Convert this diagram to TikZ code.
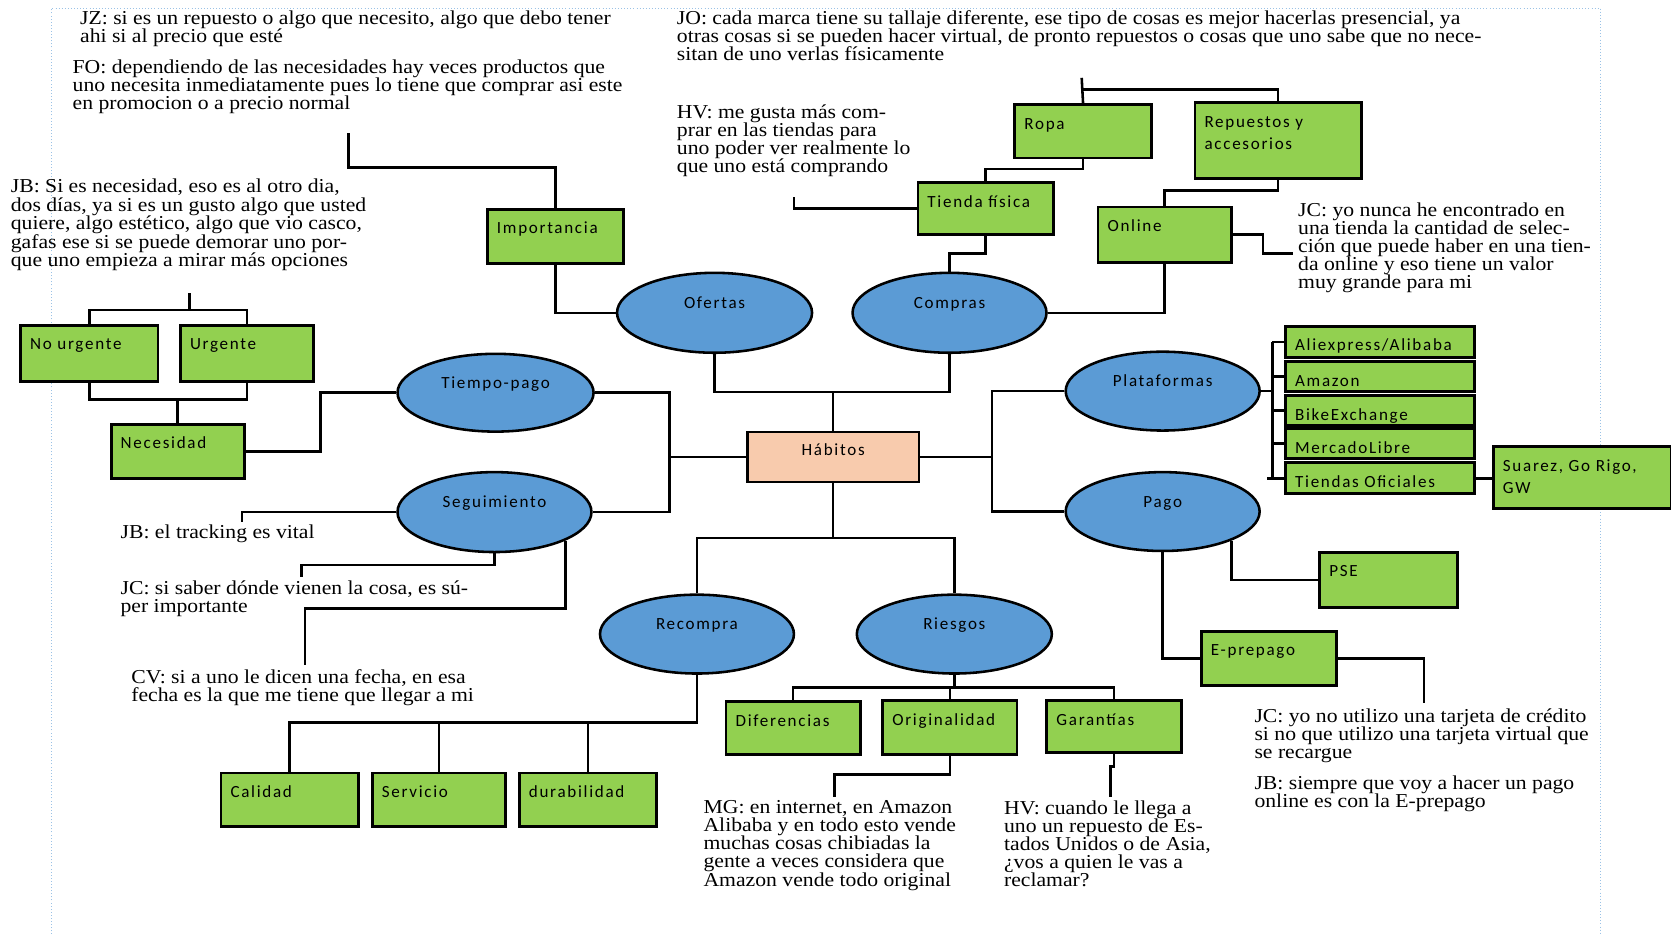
\documentclass[tikz,border=0pt]{standalone}
\usepackage{fontspec}
\setmainfont{Liberation Serif}
\newfontfamily\cmtfont[FakeStretch=1.1]{Liberation Serif}
\newfontfamily\boxfont[LetterSpace=10]{Carlito}
\usetikzlibrary{shapes.geometric}
\definecolor{gfill}{RGB}{146,208,80}
\definecolor{bfill}{RGB}{91,155,213}
\definecolor{pfill}{RGB}{248,203,173}
\definecolor{frameblue}{RGB}{155,194,230}
\newcommand\lbl[3]{\vbox to #2pt{\offinterlineskip\kern 23pt\hbox to #1pt{\hskip 9pt\smash{#3}\hfil}\vfil}}
\newcommand\lblc[3]{\vbox to #2pt{\offinterlineskip\kern 22pt\hbox to #1pt{\hfil\smash{#3}\hfil}\vfil}}
\newcommand\lblii[4]{\vbox to #2pt{\offinterlineskip\kern 23pt\hbox to #1pt{\hskip 9pt\smash{#3}\hfil}\kern 21pt\hbox to #1pt{\hskip 9pt\smash{#4}\hfil}\vfil}}
\newcommand\elbl[1]{\smash{\raisebox{4pt}{#1}}}
\tikzset{
  gbox/.style={rectangle, draw=black, line width=2.6pt, fill=gfill, inner sep=0pt, anchor=north west,
    font=\boxfont\fontsize{16}{18}\selectfont},
  pbox/.style={gbox, fill=pfill},
  ell/.style={ellipse, draw=black, line width=2.4pt, fill=bfill, inner sep=0pt,
    font=\boxfont\fontsize{16}{18}\selectfont},
  conn/.style={line width=2.4pt, draw=black},
  cmt/.style={anchor=north west, align=left, inner sep=0pt, font=\cmtfont\fontsize{18.5}{17}\selectfont},
}
\begin{document}
\begin{tikzpicture}[x=1pt,y=-1pt]
\useasboundingbox (0,0) rectangle (1568,876);
\fill[white] (0,0) rectangle (1568,876);
\draw[frameblue, dotted, line width=0.9pt] (48,900) -- (48,8) -- (1502,8) -- (1502,900);

% comments
\node[cmt] (tjz) at (75,10) {JZ: si es un repuesto o algo que necesito, algo que debo tener\\ahi si al precio que esté};
\node[cmt] (tfo) at (68,56) {FO: dependiendo de las necesidades hay veces productos que\\uno necesita inmediatamente pues lo tiene que comprar asi este\\en promocion o a precio normal};
\node[cmt] (tjb) at (10,168) {JB: Si es necesidad, eso es al otro dia,\\dos días, ya si es un gusto algo que usted\\quiere, algo estético, algo que vio casco,\\gafas ese si se puede demorar uno por-\\que uno empieza a mirar más opciones};
\node[cmt] (tjo) at (635,10) {JO: cada marca tiene su tallaje diferente, ese tipo de cosas es mejor hacerlas presencial, ya\\otras cosas si se pueden hacer virtual, de pronto repuestos o cosas que uno sabe que no nece-\\sitan de uno verlas físicamente};
\node[cmt] (thv) at (635,98) {HV: me gusta más com-\\prar en las tiendas para\\uno poder ver realmente lo\\que uno está comprando};
\node[cmt] (tjc) at (1218,190) {JC: yo nunca he encontrado en\\una tienda la cantidad de selec-\\ción que puede haber en una tien-\\da online y eso tiene un valor\\muy grande para mi};
\node[cmt] (tjbt) at (113,492) {JB: el tracking es vital};
\node[cmt] (tjcs) at (113,545) {JC: si saber dónde vienen la cosa, es sú-\\per importante};
\node[cmt] (tcv) at (123,628) {CV: si a uno le dicen una fecha, en esa\\fecha es la que me tiene que llegar a mi};
\node[cmt] (tmg) at (660,751) {MG: en internet, en Amazon\\Alibaba y en todo esto vende\\muchas cosas chibiadas la\\gente a veces considera que\\Amazon vende todo original};
\node[cmt] (thvc) at (942,751) {HV: cuando le llega a\\uno un repuesto de Es-\\tados Unidos o de Asia,\\¿vos a quien le vas a\\reclamar?};
\node[cmt] (tjcy) at (1177,665) {JC: yo no utilizo una tarjeta de crédito\\si no que utilizo una tarjeta virtual que\\se recargue};
\node[cmt] (tjbs) at (1177,728) {JB: siempre que voy a hacer un pago\\online es con la E-prepago};

% boxes
\node[gbox] (imp) at (456,195) {\lbl{128}{51}{Importancia}};
\node[gbox] (ropa) at (951,97) {\lbl{128}{50}{Ropa}};
\node[gbox] (rep) at (1120,95) {\lblii{156}{71}{Repuestos y}{accesorios}};
\node[gbox] (tfis) at (860,170) {\lbl{127}{49}{Tienda física}};
\node[gbox] (onl) at (1029,193) {\lbl{125}{52}{Online}};
\node[gbox] (nourg) at (18,304) {\lbl{129}{53}{No urgente}};
\node[gbox] (urg) at (168,304) {\lbl{125}{53}{Urgente}};
\node[gbox] (nec) at (103,397) {\lbl{125}{51}{Necesidad}};
\node[pbox] (hab) at (700,404) {\lblc{161}{47}{Hábitos}};
\node[gbox] (ali) at (1205,305) {\lbl{177}{29}{Aliexpress/Alibaba}};
\node[gbox] (ama) at (1205,338) {\lbl{177}{28}{Amazon}};
\node[gbox] (bike) at (1205,370) {\lbl{177}{28}{BikeExchange}};
\node[gbox] (merc) at (1205,401) {\lbl{177}{28}{MercadoLibre}};
\node[gbox] (tofi) at (1205,433) {\lbl{177}{29}{Tiendas Oficiales}};
\node[gbox] (sua) at (1400,418) {\lblii{167}{58}{Suarez, Go Rigo,}{GW}};
\node[gbox] (pse) at (1237,517) {\lbl{129}{52}{PSE}};
\node[gbox] (epre) at (1126,591) {\lbl{127}{51}{E-prepago}};
\node[gbox] (dif) at (680,657) {\lbl{126}{50}{Diferencias}};
\node[gbox] (orig) at (827,656) {\lbl{126}{51}{Originalidad}};
\node[gbox] (gar) at (981,656) {\lbl{126}{49}{Garantías}};
\node[gbox] (cal) at (206,724) {\lbl{129}{50}{Calidad}};
\node[gbox] (serv) at (348,724) {\lbl{125}{50}{Servicio}};
\node[gbox] (dura) at (486,724) {\lbl{129}{50}{durabilidad}};

% ellipses
\node[ell, minimum width=183pt, minimum height=75pt] (ofe) at (670.5,293.5) {\elbl{Ofertas}};
\node[ell, minimum width=182pt, minimum height=75pt] (com) at (891,293.5) {\elbl{Compras}};
\node[ell, minimum width=184pt, minimum height=73pt] (tp) at (465,368.5) {\elbl{Tiempo-pago}};
\node[ell, minimum width=182pt, minimum height=75pt] (seg) at (464,480.5) {\elbl{Seguimiento}};
\node[ell, minimum width=182pt, minimum height=74pt] (plat) at (1091,367) {\elbl{Plataformas}};
\node[ell, minimum width=182pt, minimum height=74pt] (pago) at (1091,480) {\elbl{Pago}};
\node[ell, minimum width=182pt, minimum height=74pt] (recom) at (654,595) {\elbl{Recompra}};
\node[ell, minimum width=183pt, minimum height=74pt] (ries) at (895.5,595) {\elbl{Riesgos}};

% free ends
\coordinate (foc) at (327,125);
\coordinate (hvc) at (745,185);
\coordinate (jcoc) at (1213,238);
\coordinate (ropc) at (1015,73);
\coordinate (jbc) at (178,275);
\coordinate (jbtc) at (227,490);
\coordinate (jcsc) at (283,541);
\coordinate (cvc) at (286,624);
\coordinate (jcyc) at (1336,660);
\coordinate (mgc) at (783,748);
\coordinate (hvcc) at (1042,748);

% connectors
\draw[conn] (foc) -- (foc |- 0,157) -| (imp.north);
\draw[conn] (imp.south) |- (ofe.west);
\draw[conn] (ofe.south) -- (ofe.south |- 0,368) -- (com.south |- 0,368) -- (com.south);
\draw[conn] (hab.north) -- (hab.north |- 0,368);
\draw[conn] (com.east) -| (onl.south);
\draw[conn] (onl.north) -- (onl.north |- 0,179) -| (rep.south);
\draw[conn] (ropc) -- (ropa.north);
\draw[conn] (ropa.north |- 0,84) -| (rep.north);
\draw[conn] (ropa.south) -- (ropa.south |- 0,158.5) -| (tfis.north);
\draw[conn] (tfis.south) -- (tfis.south |- 0,238) -| (com.north);
\draw[conn] (tfis.west) -| (hvc);
\draw[conn] (onl.east) -- (onl.east -| 1185,0) |- (jcoc);
\draw[conn] (jbc) -- (jbc |- 0,291);
\draw[conn] (nourg.north) -- (nourg.north |- 0,291) -- (urg.north |- 0,291) -- (urg.north);
\draw[conn] (nourg.south) -- (nourg.south |- 0,375) -- (urg.south |- 0,375) -- (urg.south);
\draw[conn] (nec.north) -- (nec.north |- 0,375);
\draw[conn] (nec.east) -- (nec.east -| 301,0) |- (tp.west);
\draw[conn] (tp.east) -- (tp.east -| 628,0) -- (seg.east -| 628,0) -- (seg.east);
\draw[conn] (hab.west) -- (hab.west -| 628,0);
\draw[conn] (seg.west) -| (jbtc);
\draw[conn] (seg.south) -- (seg.south |- 0,530) -| (jcsc);
\draw[conn] (seg.338) -- (seg.338 |- 0,571) -| (cvc);
\draw[conn] (hab.south) -- (hab.south |- 0,505);
\draw[conn] (recom.north) -- (recom.north |- 0,505) -- (ries.north |- 0,505) -- (ries.north);
\draw[conn] (hab.east) -- (hab.east -| 931,0);
\draw[conn] (plat.west) -- (plat.west -| 931,0) -- (pago.west -| 931,0) -- (pago.west);
\draw[conn] (plat.east) -- (plat.east -| 1194,0);
\draw[conn] (ali.west -| 1194,0) -- (tofi.west -| 1194,0);
\draw[conn] (ali.west -| 1194,0) -- (ali.west);
\draw[conn] (ama.west -| 1194,0) -- (ama.west);
\draw[conn] (bike.west -| 1194,0) -- (bike.west);
\draw[conn] (merc.west -| 1194,0) -- (merc.west);
\draw[conn] (tofi.west -| 1189,0) -- (tofi.west);
\draw[conn] (tofi.east) -- (tofi.east -| sua.west);
\draw[conn] (pago.337) -- (pago.337 |- pse.west) -- (pse.west);
\draw[conn] (pago.south) |- (epre.west);
\draw[conn] (epre.east) -| (jcyc);
\draw[conn] (ries.south) -- (ries.south |- 0,645);
\draw[conn] (dif.north) -- (dif.north |- 0,645) -- (gar.north |- 0,645) -- (gar.north);
\draw[conn] (orig.north) -- (orig.north |- 0,645);
\draw[conn] (orig.south) -- (orig.south |- 0,727) -| (mgc);
\draw[conn] (gar.south) -- (gar.south |- 0,719) -- (hvcc |- 0,719) -- (hvcc);
\draw[conn] (recom.south) |- (cal.north |- 0,678) -- (cal.north);
\draw[conn] (serv.north) -- (serv.north |- 0,678);
\draw[conn] (dura.north) -- (dura.north |- 0,678);
\end{tikzpicture}
\end{document}
